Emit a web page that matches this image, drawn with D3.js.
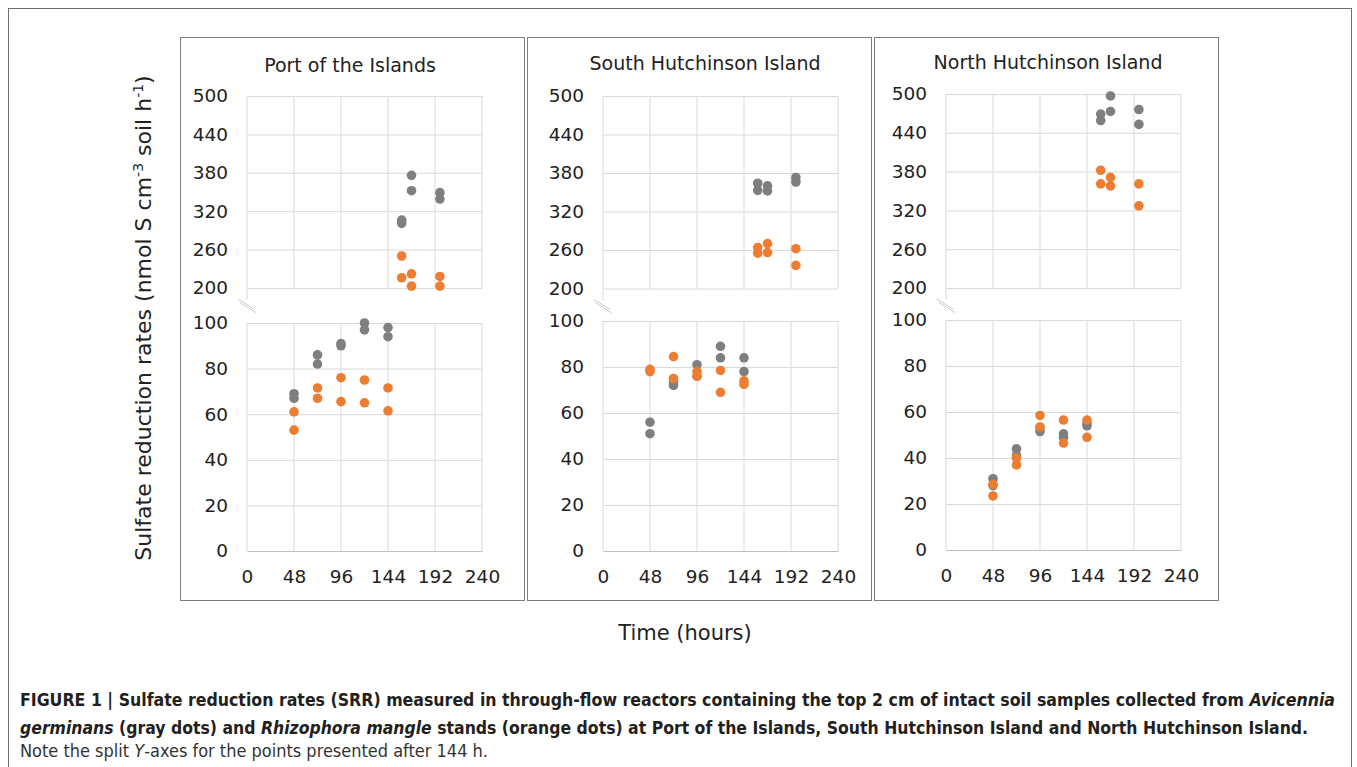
<!DOCTYPE html>
<html>
<head>
<meta charset="utf-8">
<script src="https://cdn.jsdelivr.net/npm/d3@7"></script>
<style>
  body { margin: 0; background: #fff; }
  svg { display: block; }
</style>
</head>
<body>
<div id="chart"></div>
<script>
// sites and sampling times (hours)
const sites = ['Port of the Islands', 'South Hutchinson Island', 'North Hutchinson Island'];
const lowTimes = [48, 72, 96, 120, 144];
const highTimes = [158, 168, 197];
const lowTicks = [0, 20, 40, 60, 80, 100];
const highTicks = [200, 260, 320, 380, 440, 500];
const timeTicks = [0, 48, 96, 144, 192, 240];

// Avicennia germinans (gray) and Rhizophora mangle (orange), two replicates per time
const poiGrayLow = [[69, 67], [86, 82], [91, 90], [100, 97], [98, 94]];
const poiOrangeLow = [[61, 53], [71.5, 67], [76, 65.5], [75, 65], [71.5, 61.5]];
const poiGrayHigh = [[306, 301], [376, 352], [349, 339]];
const poiOrangeHigh = [[250, 216], [222, 203], [218, 203]];

const shiGrayLow = [[56, 51], [73.5, 72], [81, 76], [89, 84], [84, 78]];
const shiOrangeLow = [[79, 78], [84.5, 75], [78, 76], [78.5, 69], [74, 72.5]];
const shiGrayHigh = [[364, 353], [360, 352], [373, 366]];
const shiOrangeHigh = [[264, 255], [270, 256], [262, 236]];

const nhiGrayLow = [[31, 28], [44, 41], [53, 51.5], [50.5, 49], [54, 55]];
const nhiOrangeLow = [[28.5, 23.5], [40, 37], [58.5, 53.5], [56.5, 46.5], [56.5, 49]];
const nhiGrayHigh = [[469, 459], [497, 473], [476, 453]];
const nhiOrangeHigh = [[382, 361], [371, 358], [361, 327]];

const grayColor = '#7f7f7f';
const orangeColor = '#ed7d31';
const gridColor = '#d9d9d9';

const panels = [
  { grayLow: poiGrayLow, orangeLow: poiOrangeLow, grayHigh: poiGrayHigh, orangeHigh: poiOrangeHigh,
    box: 180, left: 247, hiTop: 96, hiBot: 288, loTop: 323, loBot: 551, titleX: 350, titleY: 72 },
  { grayLow: shiGrayLow, orangeLow: shiOrangeLow, grayHigh: shiGrayHigh, orangeHigh: shiOrangeHigh,
    box: 527, left: 603, hiTop: 96, hiBot: 288.5, loTop: 321, loBot: 551, titleX: 705, titleY: 70 },
  { grayLow: nhiGrayLow, orangeLow: nhiOrangeLow, grayHigh: nhiGrayHigh, orangeHigh: nhiOrangeHigh,
    box: 874, left: 946, hiTop: 94, hiBot: 288, loTop: 320, loBot: 550, titleX: 1048, titleY: 69 },
];

const W = 1357, H = 767;
const plotW = 235;
const font = "'DejaVu Sans', Verdana, sans-serif";

const svg = d3.select('#chart').append('svg').attr('width', W).attr('height', H);

// outer frame
svg.append('rect')
  .attr('x', 8.5).attr('y', 8.5)
  .attr('width', 1343).attr('height', 800)
  .attr('fill', 'none').attr('stroke', '#6d6e71').attr('stroke-width', 1);

function flatten(times, pairs) {
  const out = [];
  pairs.forEach((p, i) => p.forEach((v) => out.push({ t: times[i], v })));
  return out;
}

function drawPart(g, x, y, ticks, gray, orange, times) {
  const [y0, y1] = y.range();
  // horizontal grid + labels
  const ya = g.append('g')
    .attr('transform', `translate(${x(0)},0)`)
    .call(d3.axisLeft(y).tickValues(ticks).tickSize(-plotW).tickPadding(19));
  ya.select('.domain').remove();
  ya.selectAll('.tick line').attr('stroke', gridColor);
  ya.selectAll('.tick text')
    .attr('fill', '#222').style('font-family', font).style('font-size', '18.5px');

  // vertical grid
  g.append('g').selectAll('line')
    .data(timeTicks)
    .join('line')
    .attr('x1', (d) => x(d)).attr('x2', (d) => x(d))
    .attr('y1', y1).attr('y2', y0)
    .attr('stroke', gridColor);

  g.append('g').selectAll('circle')
    .data(flatten(times, gray))
    .join('circle')
    .attr('cx', (d) => x(d.t)).attr('cy', (d) => y(d.v))
    .attr('r', 4.8).attr('fill', grayColor);

  g.append('g').selectAll('circle')
    .data(flatten(times, orange))
    .join('circle')
    .attr('cx', (d) => x(d.t)).attr('cy', (d) => y(d.v))
    .attr('r', 4.8).attr('fill', orangeColor);
}

panels.forEach((p, i) => {
  const g = svg.append('g');

  g.append('rect')
    .attr('x', p.box + 0.5).attr('y', 37.5)
    .attr('width', 344).attr('height', 563)
    .attr('fill', '#fff').attr('stroke', '#7f7f7f');

  g.append('text')
    .attr('x', p.titleX).attr('y', p.titleY)
    .attr('text-anchor', 'middle')
    .style('font-family', font).style('font-size', '19px')
    .attr('fill', '#222')
    .text(sites[i]);

  const x = d3.scaleLinear().domain([0, 240]).range([p.left, p.left + plotW]);
  const yHigh = d3.scaleLinear().domain([200, 500]).range([p.hiBot, p.hiTop]);
  const yLow = d3.scaleLinear().domain([0, 100]).range([p.loBot, p.loTop]);

  drawPart(g, x, yHigh, highTicks, p.grayHigh, p.orangeHigh, highTimes);
  drawPart(g, x, yLow, lowTicks, p.grayLow, p.orangeLow, lowTimes);

  // left axis of upper part runs a little below 200
  g.append('line')
    .attr('x1', x(0)).attr('x2', x(0))
    .attr('y1', p.hiBot).attr('y2', p.hiBot + 12)
    .attr('stroke', gridColor);

  // axis break marks
  [0, 3.5].forEach((o) => {
    g.append('line')
      .attr('x1', x(0) - 9 + o * 0.5).attr('y1', p.hiBot + 11 + o)
      .attr('x2', x(0) + 7 + o * 0.5).attr('y2', p.hiBot + 21 + o)
      .attr('stroke', '#c8c8c8').attr('stroke-width', 1);
  });

  // x axis (lower part only)
  const xa = g.append('g')
    .attr('transform', `translate(0,${p.loBot})`)
    .call(d3.axisBottom(x).tickValues(timeTicks).tickSize(0).tickPadding(19));
  xa.select('.domain').attr('stroke', '#bfbfbf');
  xa.selectAll('.tick text')
    .attr('fill', '#222').style('font-family', font).style('font-size', '18.5px');
});

// y axis title
const yTitle = svg.append('text')
  .attr('transform', 'translate(151,318) rotate(-90)')
  .attr('text-anchor', 'middle')
  .style('font-family', font).style('font-size', '22px')
  .attr('fill', '#222');
yTitle.append('tspan').text('Sulfate reduction rates (nmol S cm');
yTitle.append('tspan').attr('dy', -8).style('font-size', '14px').text('-3');
yTitle.append('tspan').attr('dy', 8).text(' soil h');
yTitle.append('tspan').attr('dy', -8).style('font-size', '14px').text('-1');
yTitle.append('tspan').attr('dy', 8).text(')');

// x axis title
svg.append('text')
  .attr('x', 685).attr('y', 640)
  .attr('text-anchor', 'middle')
  .style('font-family', font).style('font-size', '21px')
  .attr('fill', '#222')
  .text('Time (hours)');

// caption
const capFont = "'Liberation Sans Narrow', 'Arial Narrow', 'DejaVu Sans Condensed', sans-serif";
const cap1 = svg.append('text')
  .attr('x', 20).attr('y', 706)
  .attr('textLength', 1315).attr('lengthAdjust', 'spacingAndGlyphs')
  .style('font-family', capFont).style('font-size', '17px').style('font-weight', 'bold')
  .attr('fill', '#231f20');
cap1.append('tspan').text('FIGURE 1 | Sulfate reduction rates (SRR) measured in through-flow reactors containing the top 2 cm of intact soil samples collected from ');
cap1.append('tspan').style('font-style', 'italic').text('Avicennia');

const cap2 = svg.append('text')
  .attr('x', 20).attr('y', 734)
  .attr('textLength', 1288).attr('lengthAdjust', 'spacingAndGlyphs')
  .style('font-family', capFont).style('font-size', '17px').style('font-weight', 'bold')
  .attr('fill', '#231f20');
cap2.append('tspan').style('font-style', 'italic').text('germinans');
cap2.append('tspan').text(' (gray dots) and ');
cap2.append('tspan').style('font-style', 'italic').text('Rhizophora mangle');
cap2.append('tspan').text(' stands (orange dots) at Port of the Islands, South Hutchinson Island and North Hutchinson Island.');

const cap3 = svg.append('text')
  .attr('x', 20).attr('y', 757)
  .attr('textLength', 468).attr('lengthAdjust', 'spacingAndGlyphs')
  .style('font-family', capFont).style('font-size', '17px')
  .attr('fill', '#333');
cap3.append('tspan').text('Note the split ');
cap3.append('tspan').style('font-style', 'italic').text('Y');
cap3.append('tspan').text('-axes for the points presented after 144 h.');
</script>
</body>
</html>
